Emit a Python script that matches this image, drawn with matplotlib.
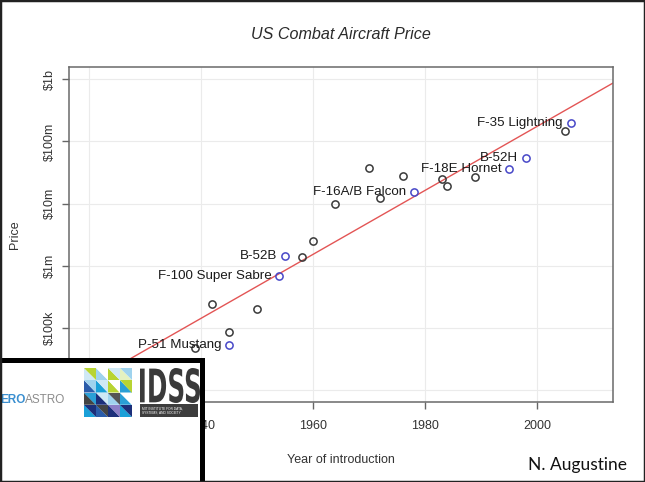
#imports for plotting
import numpy as np
import matplotlib
matplotlib.use('Agg')
import matplotlib.pyplot as plt
from matplotlib.patches import Rectangle, Polygon, PathPatch
from matplotlib.textpath import TextPath
from matplotlib.font_manager import FontProperties
from matplotlib.transforms import Affine2D

#unlabelled aircraft (year, unit price in $)
other_years = [1939, 1942, 1945, 1950, 1958, 1960, 1964, 1970, 1972, 1976, 1983, 1984, 1989, 2005]
other_price = [47e3, 240e3, 85e3, 200e3, 1.38e6, 2.45e6, 9.8e6, 38e6, 12.3e6, 28.2e6, 24.5e6, 19.1e6, 26.9e6, 148e6]

#labelled aircraft
named_planes = ['P-51 Mustang', 'F-100 Super Sabre', 'B-52B', 'F-16A/B Falcon', 'F-18E Hornet', 'B-52H', 'F-35 Lightning']
named_years = [1945, 1954, 1955, 1978, 1995, 1998, 2006]
named_price = [52e3, 690e3, 1.45e6, 15.1e6, 35.5e6, 53.7e6, 195e6]

#trend line: log10(price) = fit_1960 + fit_slope*(year-1960)
fit_1960 = 6.18
fit_slope = 0.0515

#axes (the $10k label sits under the logo box, so it is left blank)
x_ticks = [1920, 1940, 1960, 1980, 2000]
y_ticks = [1e4, 1e5, 1e6, 1e7, 1e8, 1e9]
y_labels = ['', r'\$100k', r'\$1m', r'\$10m', r'\$100m', r'\$1b']
x_lim = (1916.5, 2013.5)
y_lim = (10**3.804, 10**9.203)

#logo tile colours (rows top to bottom, two triangles per cell)
tile_colors = [
    [('#cfe9f5', '#b8d432'), ('#9fd3ee', '#ffffff'), ('#b8d432', '#cfe9f5'), ('#e4f1c0', '#9fd3ee')],
    [('#2a5caa', '#9fd3ee'), ('#1aa0d8', '#cfe9f5'), ('#b8d432', '#ffffff'), ('#2a9fd6', '#b8d432')],
    [('#444444', '#2a9fd6'), ('#1c2f7a', '#cfe9f5'), ('#9fd3ee', '#555555'), ('#2a9fd6', '#ffffff')],
    [('#1aa0d8', '#1c2f7a'), ('#2a5caa', '#444444'), ('#1c2f7a', '#8b7fc7'), ('#1aa0d8', '#1c2f7a')],
]

plt.rcParams['font.family'] = ['Liberation Sans', 'DejaVu Sans']

W, H = 645, 482
fig = plt.figure(figsize=(W / 100, H / 100), dpi=100)
ax = fig.add_axes([69.3 / W, 1 - 402 / H, (612.5 - 69.3) / W, (402 - 66.7) / H])

ax.set_yscale('log')
ax.set_xlim(*x_lim)
ax.set_ylim(*y_lim)

#grid
for gx in x_ticks:
    ax.axvline(gx, color='#ebebeb', lw=0.8, zorder=0)
for gy in y_ticks:
    ax.axhline(gy, color='#ebebeb', lw=0.8, zorder=0)

#trend line
xs = np.array(x_lim)
ax.plot(xs, 10 ** (fit_1960 + fit_slope * (xs - 1960)), color='#e35555', lw=1.0, zorder=2)

#points
ax.plot(other_years, other_price, 'o', mfc='none', mec='#3a3a3a', ms=5.2, mew=1.1, zorder=3)
ax.plot(named_years, named_price, 'o', mfc='none', mec='#4848c8', ms=5.2, mew=1.1, zorder=3)
for name, yr, pr in zip(named_planes, named_years, named_price):
    ax.annotate(name, (yr, pr), xytext=(-5.5, 0), textcoords='offset points',
                ha='right', va='center', fontsize=9.6, color='#1a1a1a', zorder=3)

#ticks and labels
ax.set_xticks(x_ticks)
ax.set_xticklabels([str(v) for v in x_ticks])
ax.set_yticks(y_ticks)
ax.set_yticklabels(y_labels, rotation=90, va='center')
ax.minorticks_off()
ax.tick_params(axis='both', colors='#666666', labelcolor='#333333', labelsize=9, length=5, width=1)
ax.tick_params(axis='x', pad=8)
ax.tick_params(axis='y', pad=5)
for s in ax.spines.values():
    s.set_color('#6a6a6a')
    s.set_linewidth(1.1)

ax.set_title('US Combat Aircraft Price', fontstyle='italic', fontsize=11.6, color='#2a2a2a',
             y=(402 - 34) / (402 - 66.7), va='center', pad=0)
ax.set_xlabel('Year of introduction', fontsize=9, color='#333333')
ax.xaxis.set_label_coords(0.5, (402 - 460) / (402 - 66.7))
ax.xaxis.label.set_va('center')
ax.set_ylabel('Price', fontsize=9, color='#333333')
ax.yaxis.set_label_coords((15 - 69.3) / (612.5 - 69.3), 0.5)
ax.yaxis.label.set_va('center')

#credit
fig.text(578 / W, 1 - 465 / H, 'N. Augustine', fontsize=12.5, family=['Lato', 'DejaVu Sans'],
         color='#111111', ha='center', va='center')

#logo box over bottom left corner (top edge at 359.5 px from the top)
box_top = H - 359.5
fig.add_artist(Rectangle((-12 / W, -12 / H), (202 + 12) / W, (box_top + 12) / H, transform=fig.transFigure,
                         facecolor='white', edgecolor='black', lw=3.6, zorder=10))

ero = fig.text(0, 1 - 400 / H, 'ERO', fontsize=8.5, fontweight='bold', color='#3a8fd0', va='center', zorder=11)
fig.add_artist(plt.Annotation('ASTRO', xy=(1, 0.5), xycoords=ero, va='center', ha='left',
                              fontsize=8.5, color='#8c8c8c', zorder=11))

#tile mosaic
logo_ax = fig.add_axes([84 / W, 1 - 417 / H, 48 / W, 49 / H])
logo_ax.set_zorder(11)
logo_ax.set_xlim(0, 4)
logo_ax.set_ylim(0, 4)
logo_ax.axis('off')
for r, row in enumerate(tile_colors):
    y0 = 3 - r
    for c, (c1, c2) in enumerate(row):
        logo_ax.add_patch(Polygon([(c, y0), (c + 1, y0), (c, y0 + 1)], color=c1, lw=0))
        logo_ax.add_patch(Polygon([(c + 1, y0), (c + 1, y0 + 1), (c, y0 + 1)], color=c2, lw=0))

#IDSS letters squeezed into their box
idss_ax = fig.add_axes([140 / W, 1 - 403 / H, 60 / W, 35 / H])
idss_ax.set_zorder(11)
idss_ax.set_xlim(0, 1)
idss_ax.set_ylim(0, 1)
idss_ax.axis('off')
tp = TextPath((0, 0), 'IDSS', size=1, prop=FontProperties(family='DejaVu Sans', weight='bold'))
ext = tp.get_extents()
squeeze = Affine2D().translate(-ext.x0, -ext.y0).scale(1 / ext.width, 1 / ext.height)
idss_ax.add_patch(PathPatch(squeeze.transform_path(tp), facecolor='#3a3a3a', lw=0))

fig.add_artist(Rectangle((140 / W, 1 - 417 / H), 58 / W, 13 / H, transform=fig.transFigure,
                         facecolor='#3d3d3d', lw=0, zorder=11))
fig.text(142 / W, 1 - 410.5 / H, 'MIT INSTITUTE FOR DATA,\nSYSTEMS, AND SOCIETY', fontsize=2.3,
         color='white', va='center', zorder=12, linespacing=1.1)

#slide frame
fig.add_artist(Rectangle((0, 0), 1, 1, transform=fig.transFigure, fill=False,
                         edgecolor='#222222', lw=2.5, zorder=12))

fig.savefig('out.png', dpi=100)
